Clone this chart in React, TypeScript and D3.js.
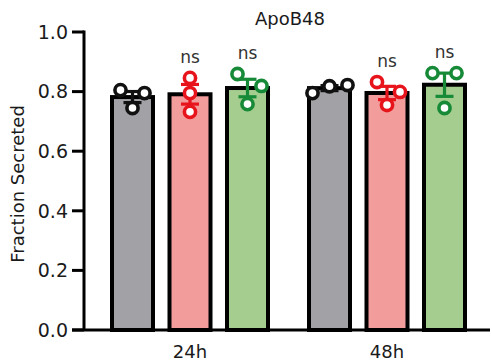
import React from "react";
import * as d3 from "d3";

const groups = ["24h", "48h"];
const series = ["Control", "Red", "Green"];
const points: Record<string, number[][]> = {
  "24h": [
    [0.805, 0.795, 0.745],
    [0.846, 0.795, 0.732],
    [0.859, 0.819, 0.758],
  ],
  "48h": [
    [0.795, 0.818, 0.822],
    [0.832, 0.799, 0.755],
    [0.862, 0.862, 0.745],
  ],
};
// horizontal scatter offsets (px) of the replicate dots
const jitter: Record<string, number[][]> = {
  "24h": [
    [-12, 12, 0],
    [0, 0, 0],
    [-10, 14, 0],
  ],
  "48h": [
    [-17, 0, 18],
    [-10, 13, 0],
    [-12, 12, 0],
  ],
};
const yTicks = [0, 0.2, 0.4, 0.6, 0.8, 1.0];
const nsLabels = [false, true, true];
const fills = ["#a2a1a6", "#f29c9c", "#a5cd90"];
const strokes = ["#111111", "#e8141c", "#178a38"];

const W = 492;
const H = 364;

export default function App() {
  const y = d3.scaleLinear().domain([0, 1]).range([330, 32]);
  const x0 = d3.scaleBand().domain(groups).range([91.5, 485.5]);
  const x1 = d3.scalePoint().domain(series).range([-57.5, 57.5]);
  const barW = 41;
  const font = "'DejaVu Sans', 'Open Sans', sans-serif";
  const txt = "#1a1a1a";

  return (
    <svg width={W} height={H} style={{ position: "absolute", left: 0, top: 0, background: "#fff" }}>
      <text x={290} y={25} fontSize={18} fontFamily={font} textAnchor="middle" fill={txt}>ApoB48</text>
      {groups.map((g) => {
        const gc = (x0(g) as number) + x0.bandwidth() / 2;
        return (
          <g key={g}>
            {series.map((s, i) => {
              const vals = points[g][i];
              const mean = d3.mean(vals) as number;
              const sd = d3.deviation(vals) as number;
              const sem = sd / Math.sqrt(vals.length);
              const cx = gc + (x1(s) as number);
              const maxY = y(Math.max(...vals));
              return (
                <g key={s}>
                  <rect x={cx - barW / 2} y={y(mean)} width={barW} height={y(0) - y(mean)} fill={fills[i]} stroke="#000" strokeWidth={4} />
                  <g stroke={strokes[i]} strokeWidth={3.2}>
                    <line x1={cx} x2={cx} y1={y(mean + sem)} y2={y(mean - sem)} />
                    <line x1={cx - 9} x2={cx + 9} y1={y(mean + sem)} y2={y(mean + sem)} />
                    <line x1={cx - 9} x2={cx + 9} y1={y(mean - sem)} y2={y(mean - sem)} />
                  </g>
                  {vals.map((v, k) => (
                    <circle key={k} cx={cx + jitter[g][i][k]} cy={y(v)} r={5.6} fill="#fff" stroke={strokes[i]} strokeWidth={3.6} />
                  ))}
                  {nsLabels[i] && (
                    <text x={cx} y={maxY - 15} fontSize={17} fontFamily={font} textAnchor="middle" fill="#333">ns</text>
                  )}
                </g>
              );
            })}
            <text x={gc} y={358} fontSize={18} fontFamily={font} textAnchor="middle" fill={txt}>{g}</text>
          </g>
        );
      })}
      <g>
        <line x1={84} x2={84} y1={y(1) - 1.5} y2={y(0)} stroke="#000" strokeWidth={3} />
        <line x1={72} x2={490} y1={y(0)} y2={y(0)} stroke="#000" strokeWidth={3} />
        {yTicks.map((t) => (
          <g key={t}>
            <line x1={72} x2={84} y1={y(t)} y2={y(t)} stroke="#000" strokeWidth={3} />
            <text x={68} y={y(t)} dy="0.36em" fontSize={19} fontFamily={font} textAnchor="end" fill={txt}>{t.toFixed(1)}</text>
          </g>
        ))}
      </g>
      <text transform={`translate(24,${184}) rotate(-90)`} fontSize={18} fontFamily={font} textAnchor="middle" fill={txt}>Fraction Secreted</text>
    </svg>
  );
}
